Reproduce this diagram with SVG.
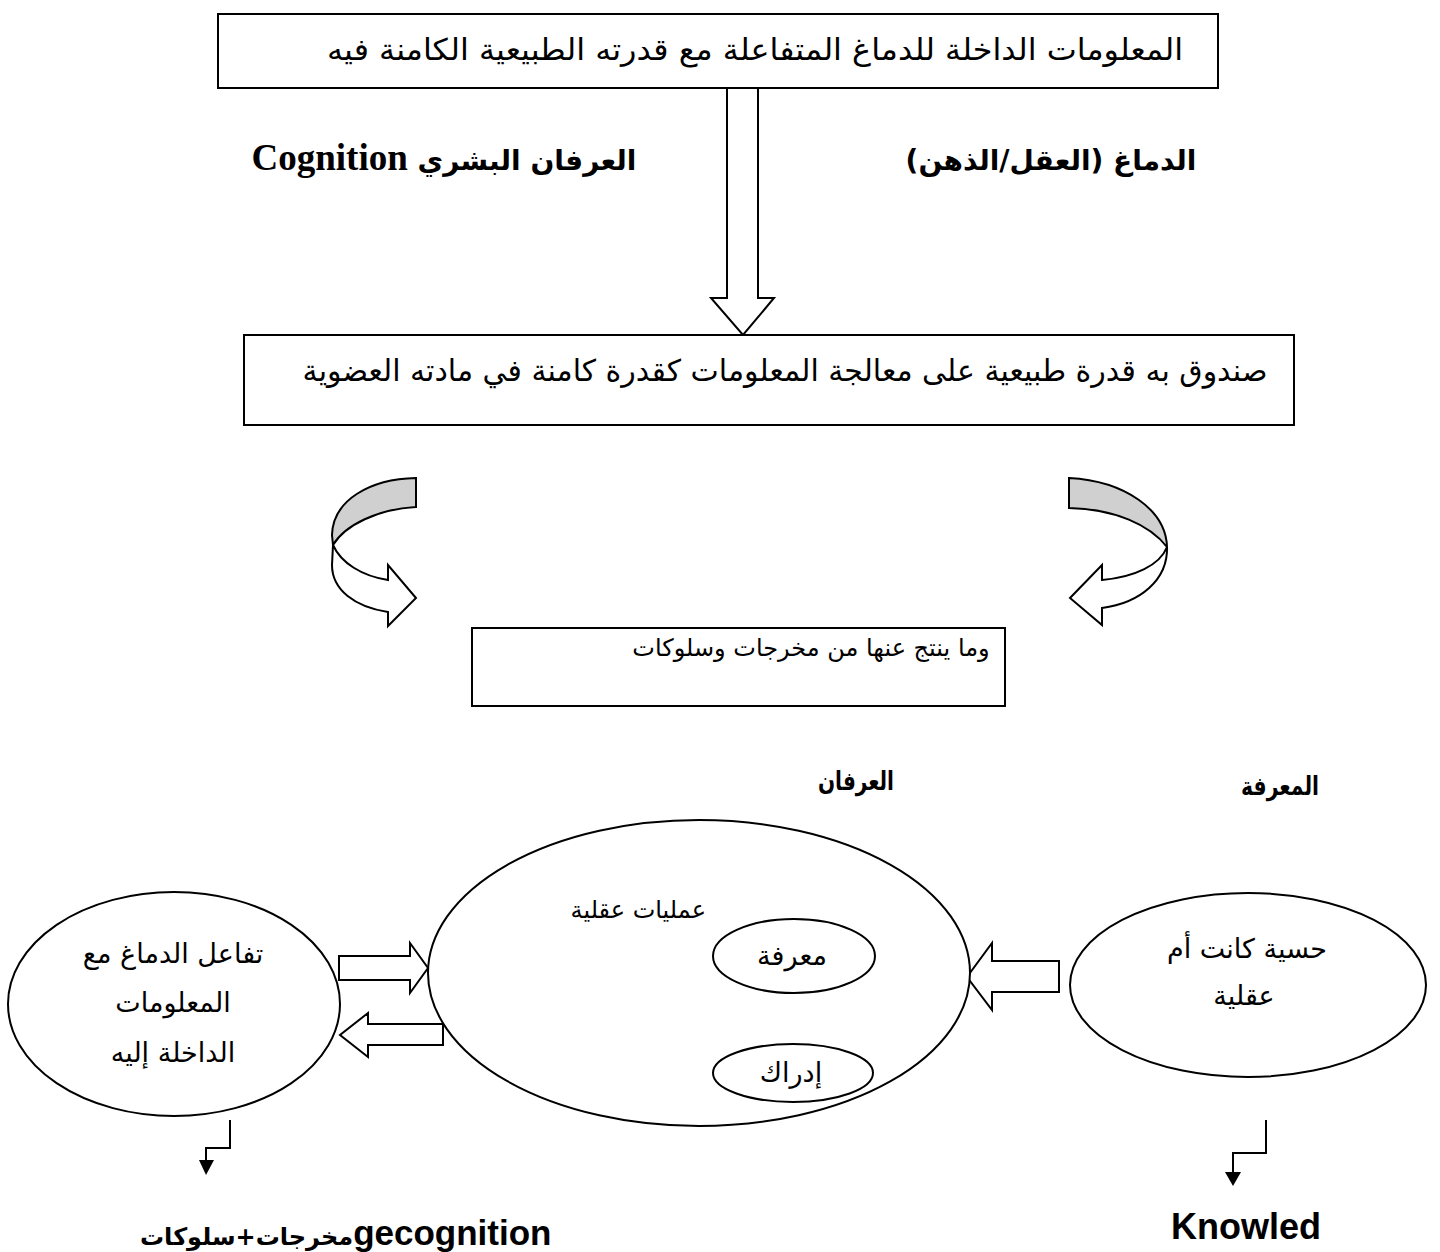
<svg xmlns="http://www.w3.org/2000/svg" width="1440" height="1252" viewBox="0 0 1440 1252">
<style>
.box{fill:#fff;stroke:#000;stroke-width:2}
.shape{fill:#fff;stroke:#000;stroke-width:2;stroke-linejoin:miter}
.gray{fill:#d0d0d0;stroke:#000;stroke-width:2}
.line{fill:none;stroke:#000;stroke-width:2}
.head{fill:#000;stroke:none}
.ar{font-family:"DejaVu Sans","Noto Sans",sans-serif;font-size:30px;fill:#000}
.arb{font-family:"DejaVu Sans","Noto Sans",sans-serif;font-size:28px;font-weight:bold;fill:#000}
.lat{font-family:"Liberation Serif",serif;font-weight:bold}
.ell{font-family:"DejaVu Sans","Noto Sans",sans-serif;font-size:27px;fill:#000}
.en{font-family:"Liberation Sans",Arial,sans-serif;font-size:36px;font-weight:bold;fill:#000}
</style>
<rect width="1440" height="1252" fill="#fff"/>
<g id="connectors">
<polygon class="shape" points="727,88 758,88 758,298 774,298 743,335 711,298 727,298"/>
<g id="curved-left">
<path class="gray" d="M416,478 C370,479 333,500 332,535 L333,545 C345,525 378,509 416,507 Z"/>
<path class="shape" d="M333,545 C341,563 362,576 388,580 L388,565 L416,598 L388,626 L388,612 C355,607 332,590 332,565 Z"/>
</g>
<g id="curved-right">
<path class="gray" d="M1069,478 C1125,481 1166,510 1167,547 C1150,525 1115,509 1069,508 Z"/>
<path class="shape" d="M1167,547 C1160,565 1135,577 1102,580 L1102,565 L1070,598 L1102,625 L1102,608 C1140,603 1168,580 1167,547 Z"/>
</g>
<polygon class="shape" points="339,956 410,956 410,943 428,968 410,993 410,980 339,980"/>
<polygon class="shape" points="443,1024 368,1024 368,1013 340,1035 368,1057 368,1045 443,1045"/>
<polygon class="shape" points="1059,961 992,961 992,943 967,977 992,1010 992,992 1059,992"/>
<polyline class="line" points="230,1120 230,1148 206,1148 206,1162"/>
<polygon class="head" points="199,1160 214,1160 206,1175"/>
<polyline class="line" points="1266,1120 1266,1153 1233,1153 1233,1173"/>
<polygon class="head" points="1225,1172 1241,1172 1233,1186"/>
</g>
<g id="box-input">
<rect class="box" x="218" y="14" width="1000" height="74"/>
<text class="ar" x="755" y="60" text-anchor="middle" direction="rtl" textLength="856" lengthAdjust="spacingAndGlyphs">المعلومات الداخلة للدماغ المتفاعلة مع قدرته الطبيعية الكامنة فيه</text>
</g>
<g id="label-brain">
<text class="arb" x="1051" y="170" text-anchor="middle" direction="rtl">الدماغ (العقل/الذهن)</text>
</g>
<g id="label-cognition">
<text class="arb" x="444" y="170" text-anchor="middle" direction="rtl">العرفان البشري <tspan class="lat" style="font-size:37px">Cognition</tspan></text>
</g>
<g id="box-processing">
<rect class="box" x="244" y="335" width="1050" height="90"/>
<text class="ar" x="785" y="381" text-anchor="middle" direction="rtl">صندوق به قدرة طبيعية على معالجة المعلومات كقدرة كامنة في مادته العضوية</text>
</g>
<g id="box-output">
<rect class="box" x="472" y="628" width="533" height="78"/>
<text class="ar" x="811" y="656" text-anchor="middle" direction="rtl" style="font-size:24px">وما ينتج عنها من مخرجات وسلوكات</text>
</g>
<g id="label-irfan">
<text class="arb" x="856" y="790" text-anchor="middle" direction="rtl" style="font-size:26px" textLength="76" lengthAdjust="spacingAndGlyphs">العرفان</text>
</g>
<g id="label-marifa">
<text class="arb" x="1280" y="795" text-anchor="middle" direction="rtl" style="font-size:26px" textLength="78" lengthAdjust="spacingAndGlyphs">المعرفة</text>
</g>
<g id="ellipse-left">
<ellipse class="box" cx="174" cy="1004" rx="166" ry="112"/>
<text class="ell" x="173" y="963" text-anchor="middle" direction="rtl">تفاعل الدماغ مع</text>
<text class="ell" x="173" y="1012" text-anchor="middle" direction="rtl">المعلومات</text>
<text class="ell" x="173" y="1062" text-anchor="middle" direction="rtl">الداخلة إليه</text>
</g>
<g id="ellipse-center">
<ellipse class="box" cx="699" cy="973" rx="271" ry="153"/>
<text class="ell" x="706" y="918" text-anchor="end" style="font-size:24px">عمليات عقلية</text>
</g>
<g id="ellipse-marifa">
<ellipse class="box" cx="794" cy="956" rx="81" ry="37"/>
<text class="ell" x="792" y="965" text-anchor="middle" direction="rtl">معرفة</text>
</g>
<g id="ellipse-idrak">
<ellipse class="box" cx="793" cy="1073" rx="80" ry="29"/>
<text class="ell" x="791" y="1082" text-anchor="middle" direction="rtl">إدراك</text>
</g>
<g id="ellipse-right">
<ellipse class="box" cx="1248" cy="985" rx="178" ry="92"/>
<text class="ell" x="1247" y="958" text-anchor="middle" direction="rtl">حسية كانت أم</text>
<text class="ell" x="1244" y="1005" text-anchor="middle" direction="rtl">عقلية</text>
</g>
<g id="label-output">
<text class="arb" x="140" y="1245" direction="ltr" style="font-size:24px">مخرجات+سلوكات<tspan class="en" style="font-size:35px">gecognition</tspan></text>
</g>
<g id="label-knowled">
<text class="en" x="1171" y="1239">Knowled</text>
</g>
</svg>
